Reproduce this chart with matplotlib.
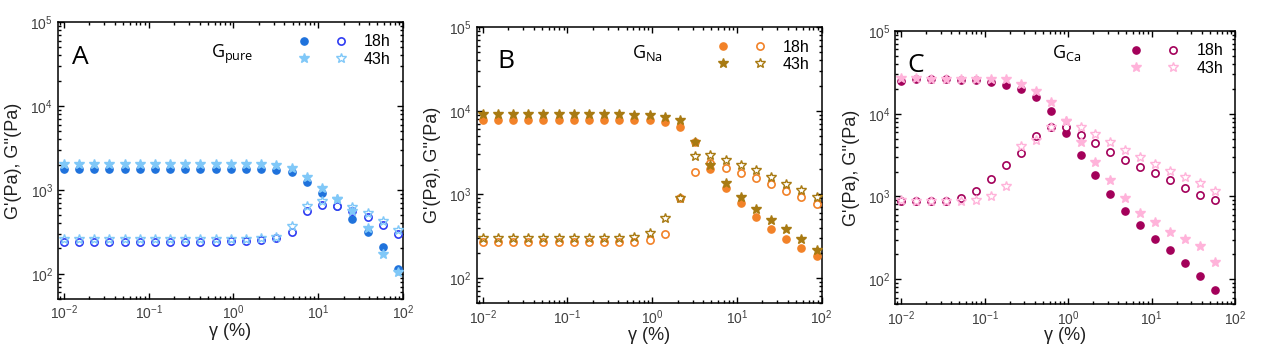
import matplotlib
matplotlib.use('Agg')
import matplotlib.pyplot as plt
from matplotlib.legend_handler import HandlerTuple

plt.rcParams['font.family'] = ['Liberation Sans', 'DejaVu Sans']
plt.rcParams['mathtext.fontset'] = 'custom'
plt.rcParams['mathtext.rm'] = 'Liberation Sans'
plt.rcParams['mathtext.default'] = 'regular'

# strain amplitude (%)
strain = [0.01, 0.0151, 0.0228, 0.0344, 0.052, 0.0785, 0.119, 0.179, 0.271, 0.409, 0.618, 0.933,
          1.41, 2.13, 3.22, 4.86, 7.34, 11.1, 16.8, 25.3, 38.3, 57.8, 87.3]
strain_ca = strain[:22]

# panel A : G pure
a_gp_18 = [1760, 1760, 1760, 1760, 1760, 1770, 1770, 1770, 1780, 1780, 1780, 1780,
           1780, 1770, 1720, 1610, 1255, 913, 640, 448, 310, 211, 114]
a_gpp_18 = [242, 242, 242, 242, 242, 242, 242, 242, 242, 242, 242, 244,
            246, 253, 265, 310, 558, 657, 633, 560, 477, 383, 297]
a_gp_43 = [2030, 2030, 2030, 2030, 2030, 2030, 2040, 2040, 2040, 2040, 2040, 2040,
           2030, 2020, 1960, 1810, 1440, 1065, 775, 562, 350, 174, 104]
a_gpp_43 = [256, 256, 256, 256, 256, 256, 256, 256, 256, 256, 256, 258,
            260, 265, 272, 372, 645, 740, 775, 628, 522, 428, 334]

# panel B : G Na
b_gp_18 = [7770, 7770, 7770, 7770, 7770, 7770, 7770, 7770, 7770, 7770, 7700, 7640,
           7420, 6450, 4200, 2010, 1180, 780, 540, 384, 294, 229, 183]
b_gpp_18 = [266, 266, 266, 266, 266, 266, 266, 266, 266, 266, 268, 284,
            332, 910, 1850, 2390, 2080, 1815, 1570, 1340, 1105, 920, 765]
b_gp_43 = [9080, 9080, 9080, 9080, 9080, 9080, 9080, 9080, 9080, 9080, 9000, 8900,
           8500, 7760, 4200, 2245, 1380, 920, 667, 492, 381, 294, 216]
b_gpp_43 = [300, 300, 300, 300, 300, 300, 300, 300, 300, 300, 305, 341,
            514, 912, 2900, 2950, 2600, 2265, 1955, 1610, 1340, 1125, 920]

# panel C : G Ca
c_gp_18 = [24800, 26000, 26000, 26000, 25800, 25400, 24100, 22000, 19800, 16000, 10700,
           5800, 3180, 1810, 1077, 672, 447, 309, 228, 158, 110, 75]
c_gpp_18 = [880, 870, 870, 875, 970, 1170, 1630, 2390, 3340, 5350, 6970,
            6860, 5530, 4400, 3460, 2790, 2300, 1915, 1560, 1262, 1048, 895]
c_gp_43 = [26700, 26700, 26500, 26500, 26500, 26300, 26000, 26000, 22700, 18700, 14000,
           8100, 4600, 2620, 1560, 956, 636, 486, 368, 306, 250, 163]
c_gpp_43 = [912, 890, 885, 880, 890, 912, 1000, 1345, 4085, 4820, 6970,
            8170, 6970, 5690, 4520, 3655, 2980, 2455, 2020, 1715, 1450, 1180]

panels = [
    dict(letter='A', name='G$_{pure}$', x=strain, data=(a_gp_18, a_gpp_18, a_gp_43, a_gpp_43),
         c18=('#1f72dc', '#2f3cf2'), c43=('#80c8f8', '#80c8f8'),
         rect=[0.0457, 0.1506, 0.272, 0.787], letter_x=0.04, name_pos=(0.443, 0.87)),
    dict(letter='B', name='G$_{Na}$', x=strain, data=(b_gp_18, b_gpp_18, b_gp_43, b_gpp_43),
         c18=('#f28228', '#f28228'), c43=('#a87a12', '#a87a12'),
         rect=[0.376, 0.139, 0.272, 0.784], letter_x=0.061, name_pos=(0.449, 0.888)),
    dict(letter='C', name='G$_{Ca}$', x=strain_ca, data=(c_gp_18, c_gpp_18, c_gp_43, c_gpp_43),
         c18=('#a3005a', '#a3005a'), c43=('#ffb3da', '#ffb3da'),
         rect=[0.706, 0.136, 0.268, 0.776], letter_x=0.035, name_pos=(0.462, 0.90)),
]

fig = plt.figure(figsize=(12.68, 3.52), dpi=100)

for p in panels:
    ax = fig.add_axes(p['rect'])
    gp18, gpp18, gp43, gpp43 = p['data']
    x = p['x']
    l1, = ax.plot(x, gp18, 'o', ms=5.2, color=p['c18'][0], mec=p['c18'][0], ls='none', zorder=3)
    l2, = ax.plot(x, gpp18, 'o', ms=5.2, mfc='white', mec=p['c18'][1], mew=1.2, ls='none', zorder=3)
    l3, = ax.plot(x, gp43, '*', ms=7.5, color=p['c43'][0], mec=p['c43'][0], ls='none', zorder=4)
    l4, = ax.plot(x, gpp43, '*', ms=7.5, mfc='none', mec=p['c43'][1], mew=1.0, ls='none', zorder=4)

    ax.set_xscale('log')
    ax.set_yscale('log')
    ax.set_xlim(0.0085, 100)
    ax.set_ylim(50, 1e5)
    ax.tick_params(which='both', direction='in', top=True, right=True,
                   labelsize=10, labelcolor='#404040', width=1)
    ax.tick_params(which='major', length=4)
    ax.tick_params(which='minor', length=2.2)
    for s in ax.spines.values():
        s.set_linewidth(1.1)

    ax.set_xlabel('γ (%)', fontsize=13, color='#202020')
    ax.xaxis.set_label_coords(0.5, -0.085)
    ax.set_ylabel("G'(Pa), G''(Pa)", fontsize=13, color='#202020')
    ax.yaxis.set_label_coords(-0.103, 0.5)

    ax.text(p['letter_x'], 0.85, p['letter'], transform=ax.transAxes, fontsize=19,
            va='baseline', family=['Open Sans', 'DejaVu Sans'])
    ax.text(p['name_pos'][0], p['name_pos'][1], p['name'], transform=ax.transAxes,
            fontsize=13, va='baseline', family=['Open Sans', 'DejaVu Sans'])

    ax.legend([(l1, l2), (l3, l4)], ['18h', '43h'],
              handler_map={tuple: HandlerTuple(ndivide=None, pad=0)},
              loc='upper right', bbox_to_anchor=(0.965, 0.955), frameon=False,
              fontsize=11.5, handlelength=4.6, handletextpad=0.3, labelspacing=0.15,
              borderpad=0, borderaxespad=0)

fig.savefig('out.png', dpi=100)
